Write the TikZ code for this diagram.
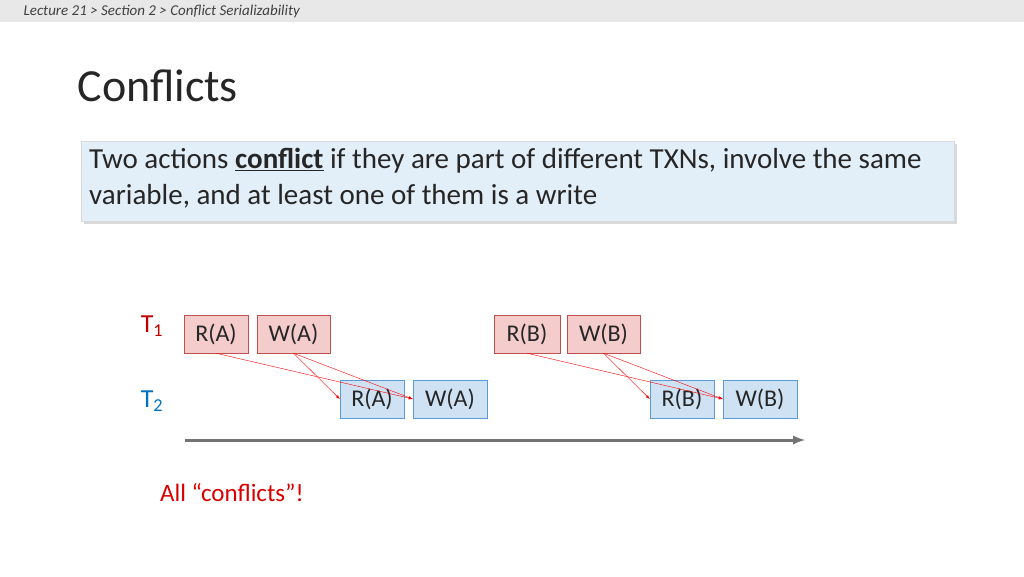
\documentclass[tikz,border=0pt]{standalone}
\usepackage{fontspec}
\setmainfont{Carlito}
\usetikzlibrary{shadows}
\definecolor{redbox}{HTML}{F4CCCC}
\definecolor{redline}{HTML}{C0504D}
\definecolor{bluebox}{HTML}{CFE2F3}
\definecolor{blueline}{HTML}{5B9BD5}
\definecolor{tred}{HTML}{C00000}
\definecolor{tblue}{HTML}{0070C0}
\tikzset{
 act/.style={draw, minimum height=38pt, inner sep=0pt, font=\fontsize{24}{26}\selectfont, text=black!85},
 t1box/.style={act, fill=redbox, draw=redline},
 t2box/.style={act, fill=bluebox, draw=blueline},
 conf/.style={red, -latex, thin},
}
\begin{document}
\begin{tikzpicture}[x=1pt,y=-1pt]
\useasboundingbox (0,0) rectangle (1024,576);
\fill[gray!18] (0,0) rectangle (1024,22);
\node[anchor=west, font=\itshape\fontsize{15}{16}\selectfont, text=black!75] (hdr) at (20,11) {Lecture 21 > Section 2 > Conflict Serializability};
\node[anchor=west, font=\fontsize{46}{50}\selectfont, text=black!85] (title) at (74,86) {Conflicts};
\node[anchor=north west, fill=bluebox!60, draw=gray!30, drop shadow={opacity=0.3}, minimum width=873pt, minimum height=80pt, inner sep=0pt] (defbox) at (81,141) {};
\node[anchor=north west, align=left, font=\fontsize{29}{36}\selectfont, text=black!85, inner sep=0pt] (deftext) at (89,148) {Two actions \underline{\textbf{conflict}} if they are part of different TXNs, involve the same\\variable, and at least one of them is a write};
\node[text=tred, font=\fontsize{26}{28}\selectfont] (t1) at (152,326) {T\textsubscript{1}};
\node[text=tblue, font=\fontsize{26}{28}\selectfont] (t2) at (152,401) {T\textsubscript{2}};
\node[t1box, minimum width=64pt] (ra1) at (216,334) {R(A)};
\node[t1box, minimum width=73pt] (wa1) at (293.5,334) {W(A)};
\node[t2box, minimum width=64pt] (ra2) at (372,399) {R(A)};
\node[t2box, minimum width=74pt] (wa2) at (450,399) {W(A)};
\node[t1box, minimum width=66pt] (rb1) at (527,334) {R(B)};
\node[t1box, minimum width=73pt] (wb1) at (603.5,334) {W(B)};
\node[t2box, minimum width=64pt] (rb2) at (682,399) {R(B)};
\node[t2box, minimum width=74pt] (wb2) at (760,399) {W(B)};
\draw[conf] (ra1.south) -- (wa2.west);
\draw[conf] (wa1.south) -- (ra2.west);
\draw[conf] (wa1.south) -- (wa2.west);
\draw[conf] (rb1.south) -- (wb2.west);
\draw[conf] (wb1.south) -- (rb2.west);
\draw[conf] (wb1.south) -- (wb2.west);
\coordinate (ts) at (185,440);
\coordinate (te) at (805,440);
\draw[gray!90!black, line width=3pt, -latex] (ts) -- (te);
\node[text=red!85!black, font=\fontsize{25}{27}\selectfont] (note) at (232,493) {All “conflicts”!};
\end{tikzpicture}
\end{document}
